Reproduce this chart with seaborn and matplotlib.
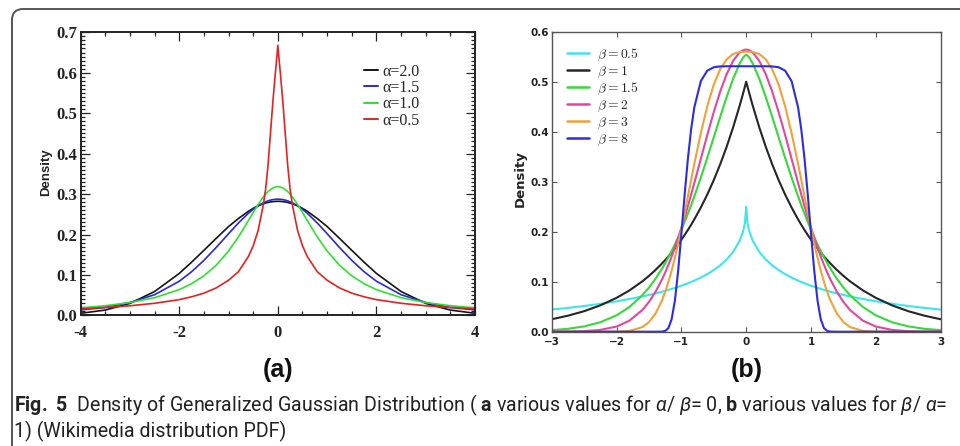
import matplotlib
matplotlib.use("Agg")
import matplotlib.pyplot as plt
import matplotlib.transforms as mtransforms
import seaborn as sns
import pandas as pd
from matplotlib import font_manager
from matplotlib.ticker import FixedLocator, FixedFormatter, MultipleLocator
from matplotlib.patches import FancyBboxPatch
from matplotlib.font_manager import FontProperties

# ---------------- data: panel (a) ----------------
x_a = [-4.0, -3.5, -3.0, -2.5, -2.0, -1.75, -1.5, -1.25, -1.0, -0.8, -0.6, -0.5, -0.4, -0.3, -0.25,
       -0.2, -0.15, -0.1, -0.05, -0.02, 0.0, 0.02, 0.05, 0.1, 0.15, 0.2, 0.25, 0.3, 0.4, 0.5, 0.6,
       0.8, 1.0, 1.25, 1.5, 1.75, 2.0, 2.5, 3.0, 3.5, 4.0]
alpha_20 = [0.0052, 0.0132, 0.0297, 0.0591, 0.1038, 0.1316, 0.1609, 0.1906, 0.2197, 0.2395, 0.2572,
            0.2647, 0.2709, 0.2758, 0.2777, 0.2793, 0.2805, 0.2814, 0.2819, 0.2821, 0.2821, 0.2821,
            0.2819, 0.2814, 0.2805, 0.2793, 0.2777, 0.2758, 0.2709, 0.2647, 0.2572, 0.2395, 0.2197,
            0.1906, 0.1609, 0.1316, 0.1038, 0.0591, 0.0297, 0.0132, 0.0052]
alpha_15 = [0.0136, 0.0195, 0.0320, 0.0512, 0.0845, 0.1080, 0.1361, 0.1681, 0.2020, 0.2285, 0.2522,
            0.2623, 0.2710, 0.2780, 0.2808, 0.2832, 0.2850, 0.2863, 0.2871, 0.2873, 0.2874, 0.2873,
            0.2871, 0.2863, 0.2850, 0.2832, 0.2808, 0.2780, 0.2710, 0.2623, 0.2522, 0.2285, 0.2020,
            0.1681, 0.1361, 0.1080, 0.0845, 0.0512, 0.0320, 0.0195, 0.0136]
alpha_10 = [0.0187, 0.0240, 0.0318, 0.0439, 0.0637, 0.0784, 0.0979, 0.1241, 0.1592, 0.1941, 0.2340,
            0.2546, 0.2744, 0.2920, 0.2996, 0.3061, 0.3113, 0.3152, 0.3175, 0.3182, 0.3183, 0.3182,
            0.3175, 0.3152, 0.3113, 0.3061, 0.2996, 0.2920, 0.2744, 0.2546, 0.2340, 0.1941, 0.1592,
            0.1241, 0.0979, 0.0784, 0.0637, 0.0439, 0.0318, 0.0240, 0.0187]
alpha_05 = [0.0165, 0.0196, 0.0238, 0.030, 0.039, 0.046, 0.055, 0.068, 0.087, 0.108, 0.145, 0.172,
            0.210, 0.270, 0.310, 0.370, 0.450, 0.530, 0.600, 0.640, 0.668, 0.640, 0.600, 0.530, 0.450,
            0.370, 0.310, 0.270, 0.210, 0.172, 0.145, 0.108, 0.087, 0.068, 0.055, 0.046, 0.039, 0.030,
            0.0238, 0.0196, 0.0165]
labels_a = ["α=2.0", "α=1.5", "α=1.0", "α=0.5"]
a_xticks = [-4, -2, 0, 2, 4]
a_xticklabels = ["-4", "-2", "0", "2", "4"]
a_yticks = [0.0, 0.1, 0.2, 0.3, 0.4, 0.5, 0.6, 0.7]
a_yticklabels = ["0.0", "0.1", "0.2", "0.3", "0.4", "0.5", "0.6", "0.7"]

# ---------------- data: panel (b) ----------------
x_b = [-3.0, -2.75, -2.5, -2.25, -2.0, -1.8, -1.6, -1.5, -1.4, -1.3, -1.25, -1.2, -1.15, -1.1, -1.05,
       -1.0, -0.95, -0.9, -0.85, -0.8, -0.7, -0.6, -0.5, -0.4, -0.3, -0.2, -0.1, -0.05, -0.02, 0.0,
       0.02, 0.05, 0.1, 0.2, 0.3, 0.4, 0.5, 0.6, 0.7, 0.8, 0.85, 0.9, 0.95, 1.0, 1.05, 1.1, 1.15,
       1.2, 1.25, 1.3, 1.4, 1.5, 1.6, 1.8, 2.0, 2.25, 2.5, 2.75, 3.0]
beta_05 = [0.0442, 0.0476, 0.0514, 0.0558, 0.0608, 0.0654, 0.0706, 0.0734, 0.0766, 0.0799, 0.0817,
           0.0836, 0.0855, 0.0876, 0.0897, 0.0920, 0.0943, 0.0968, 0.0994, 0.1022, 0.1083, 0.1152,
           0.1233, 0.1328, 0.1446, 0.1599, 0.1822, 0.1999, 0.2170, 0.2500, 0.2170, 0.1999, 0.1822,
           0.1599, 0.1446, 0.1328, 0.1233, 0.1152, 0.1083, 0.1022, 0.0994, 0.0968, 0.0943, 0.0920,
           0.0897, 0.0876, 0.0855, 0.0836, 0.0817, 0.0799, 0.0766, 0.0734, 0.0706, 0.0654, 0.0608,
           0.0558, 0.0514, 0.0476, 0.0442]
beta_1 = [0.0249, 0.0320, 0.0410, 0.0527, 0.0677, 0.0826, 0.1009, 0.1116, 0.1233, 0.1363, 0.1433,
          0.1506, 0.1583, 0.1664, 0.1750, 0.1839, 0.1934, 0.2033, 0.2137, 0.2247, 0.2483, 0.2744,
          0.3033, 0.3352, 0.3704, 0.4094, 0.4524, 0.4756, 0.4901, 0.5000, 0.4901, 0.4756, 0.4524,
          0.4094, 0.3704, 0.3352, 0.3033, 0.2744, 0.2483, 0.2247, 0.2137, 0.2033, 0.1934, 0.1839,
          0.1750, 0.1664, 0.1583, 0.1506, 0.1433, 0.1363, 0.1233, 0.1116, 0.1009, 0.0826, 0.0677,
          0.0527, 0.0410, 0.0320, 0.0249]
beta_15 = [0.0031, 0.0058, 0.0106, 0.0189, 0.0327, 0.0495, 0.0732, 0.0882, 0.1057, 0.1258, 0.1369,
           0.1488, 0.1613, 0.1748, 0.1889, 0.2038, 0.2194, 0.2358, 0.2530, 0.2709, 0.3083, 0.3480,
           0.3889, 0.4301, 0.4700, 0.5065, 0.5366, 0.5477, 0.5523, 0.5539, 0.5523, 0.5477, 0.5366,
           0.5065, 0.4700, 0.4301, 0.3889, 0.3480, 0.3083, 0.2709, 0.2530, 0.2358, 0.2194, 0.2038,
           0.1889, 0.1748, 0.1613, 0.1488, 0.1369, 0.1258, 0.1057, 0.0882, 0.0732, 0.0495, 0.0327,
           0.0189, 0.0106, 0.0058, 0.0031]
beta_2 = [0.0001, 0.0003, 0.0011, 0.0036, 0.0103, 0.0221, 0.0436, 0.0595, 0.0795, 0.1041, 0.1182,
          0.1337, 0.1504, 0.1683, 0.1874, 0.2076, 0.2288, 0.2510, 0.2739, 0.2975, 0.3456, 0.3936,
          0.4394, 0.4808, 0.5156, 0.5421, 0.5586, 0.5628, 0.5640, 0.5642, 0.5640, 0.5628, 0.5586,
          0.5421, 0.5156, 0.4808, 0.4394, 0.3936, 0.3456, 0.2975, 0.2739, 0.2510, 0.2288, 0.2076,
          0.1874, 0.1683, 0.1504, 0.1337, 0.1182, 0.1041, 0.0795, 0.0595, 0.0436, 0.0221, 0.0103,
          0.0036, 0.0011, 0.0003, 0.0001]
beta_3 = [0.0, 0.0, 0.0, 0.0, 0.0002, 0.0016, 0.0093, 0.0192, 0.0360, 0.0622, 0.0794, 0.0994, 0.1223,
          0.1479, 0.1760, 0.2060, 0.2376, 0.2701, 0.3030, 0.3356, 0.3973, 0.4511, 0.4941, 0.5252,
          0.5450, 0.5555, 0.5594, 0.5598, 0.5599, 0.5599, 0.5599, 0.5598, 0.5594, 0.5555, 0.5450,
          0.5252, 0.4941, 0.4511, 0.3973, 0.3356, 0.3030, 0.2701, 0.2376, 0.2060, 0.1760, 0.1479,
          0.1223, 0.0994, 0.0794, 0.0622, 0.0360, 0.0192, 0.0093, 0.0016, 0.0002, 0.0, 0.0, 0.0, 0.0]
beta_8 = [0.0, 0.0, 0.0, 0.0, 0.0, 0.0, 0.0, 0.0, 0.0, 0.0002, 0.0014, 0.0072, 0.0249, 0.0622, 0.1212,
          0.1953, 0.2735, 0.3452, 0.4043, 0.4489, 0.5012, 0.5221, 0.5289, 0.5306, 0.5309, 0.5309,
          0.5309, 0.5309, 0.5309, 0.5309, 0.5309, 0.5309, 0.5309, 0.5309, 0.5309, 0.5306, 0.5289,
          0.5221, 0.5012, 0.4489, 0.4043, 0.3452, 0.2735, 0.1953, 0.1212, 0.0622, 0.0249, 0.0072,
          0.0014, 0.0002, 0.0, 0.0, 0.0, 0.0, 0.0, 0.0, 0.0, 0.0, 0.0]
labels_b = [r"$\beta=0.5$", r"$\beta=1$", r"$\beta=1.5$", r"$\beta=2$", r"$\beta=3$", r"$\beta=8$"]
b_xticks = [-3, -2, -1, 0, 1, 2, 3]
b_xticklabels = ["\u22123", "\u22122", "\u22121", "0", "1", "2", "3"]
b_yticks = [0.0, 0.1, 0.2, 0.3, 0.4, 0.5, 0.6]
b_yticklabels = ["0.0", "0.1", "0.2", "0.3", "0.4", "0.5", "0.6"]

caption_line1 = (r"$\mathbf{Fig.\ 5}$  Density of Generalized Gaussian Distribution ( $\mathbf{a}$ various "
                 r"values for $\alpha$/ $\beta$= 0, $\mathbf{b}$ various values for $\beta$/ $\alpha$=")
caption_line2 = "1) (Wikimedia distribution PDF)"

# ---------------- styling ----------------
sns.set_style("ticks", {"xtick.direction": "in", "ytick.direction": "in",
                        "xtick.top": True, "ytick.right": True,
                        "xtick.bottom": True, "ytick.left": True})
avail = {f.name for f in font_manager.fontManager.ttflist}
cap_font = "Liberation Sans Narrow" if "Liberation Sans Narrow" in avail else "Roboto"
plt.rcParams["font.family"] = ["DejaVu Sans"]
plt.rcParams["mathtext.fontset"] = "custom"
plt.rcParams["mathtext.rm"] = cap_font
plt.rcParams["mathtext.bf"] = cap_font + ":bold"
plt.rcParams["mathtext.it"] = cap_font + ":italic"

W, H = 960, 446
fig = plt.figure(figsize=(W / 100, H / 100), dpi=100)
fig.patch.set_facecolor("white")

def frac_axes(x0, y0, x1, y1):
    return fig.add_axes([x0 / W, 1 - y1 / H, (x1 - x0) / W, (y1 - y0) / H])

# ---------------- panel (a) ----------------
ax_a = frac_axes(80.7, 32.3, 475.0, 315.4)
colors_a = ["#151515", "#2a2ad2", "#2fe02f", "#e22222"]
for vals, lab, col in zip([alpha_20, alpha_15, alpha_10, alpha_05], labels_a, colors_a):
    df = pd.DataFrame({"x": x_a, "density": vals})
    sns.lineplot(data=df, x="x", y="density", color=col, lw=1.2, label=lab, ax=ax_a,
                 estimator=None, sort=False)
ax_a.set_xlim(-4, 4)
ax_a.set_ylim(0, 0.7)
ax_a.xaxis.set_major_locator(FixedLocator(a_xticks))
ax_a.xaxis.set_major_formatter(FixedFormatter(a_xticklabels))
ax_a.xaxis.set_minor_locator(MultipleLocator(0.5))
ax_a.yaxis.set_major_locator(FixedLocator(a_yticks))
ax_a.yaxis.set_major_formatter(FixedFormatter(a_yticklabels))
ax_a.yaxis.set_minor_locator(MultipleLocator(0.01))
ax_a.tick_params(which="both", direction="in", top=True, right=True, bottom=True, left=True,
                 color="#222222", width=0.9)
ax_a.tick_params(which="major", length=6.5)
ax_a.tick_params(which="minor", length=3.2)
ax_a.tick_params(axis="x", which="major", pad=7)
ax_a.tick_params(axis="y", which="major", pad=2.5)
ax_a.tick_params(which="major", labelsize=12, labelcolor="#222222")
for lbl in ax_a.get_xticklabels() + ax_a.get_yticklabels():
    lbl.set_fontfamily("Liberation Serif")
    lbl.set_fontweight("bold")
for sp in ax_a.spines.values():
    sp.set_color("#222222")
    sp.set_linewidth(1.4)
ax_a.set_xlabel("")
ax_a.set_ylabel("Density", fontsize=9.5, fontweight="bold", family="Liberation Sans",
                va="center", color="#222222")
ax_a.yaxis.set_label_coords(-0.088, 0.507)
leg_a = ax_a.legend(loc="upper left", bbox_to_anchor=(0.719, 0.889), frameon=False,
                    prop=FontProperties(family="Liberation Serif", size=11.5),
                    handlelength=0.85, handletextpad=0.3, labelspacing=0.02,
                    borderpad=0, borderaxespad=0)
for h in leg_a.get_lines():
    h.set_linewidth(1.4)

# ---------------- panel (b) ----------------
ax_b = frac_axes(551.7, 31.7, 940.7, 331.7)
colors_b = ["#3ee6ec", "#262626", "#36d83a", "#e2479e", "#f0a23a", "#2c2ce2"]
for vals, lab, col in zip([beta_05, beta_1, beta_15, beta_2, beta_3, beta_8], labels_b, colors_b):
    df = pd.DataFrame({"x": x_b, "density": vals})
    sns.lineplot(data=df, x="x", y="density", color=col, lw=1.5, label=lab, ax=ax_b,
                 estimator=None, sort=False)
ax_b.set_xlim(-3, 3)
ax_b.set_ylim(0, 0.6)
ax_b.xaxis.set_major_locator(FixedLocator(b_xticks))
ax_b.xaxis.set_major_formatter(FixedFormatter(b_xticklabels))
ax_b.yaxis.set_major_locator(FixedLocator(b_yticks))
ax_b.yaxis.set_major_formatter(FixedFormatter(b_yticklabels))
ax_b.tick_params(which="major", direction="in", top=True, right=True, bottom=True, left=True,
                 length=3.5, width=0.8, color="#555555", labelsize=7.5, labelcolor="#222222")
ax_b.tick_params(axis="x", pad=3.5)
ax_b.tick_params(axis="y", pad=2)
for lbl in ax_b.get_xticklabels() + ax_b.get_yticklabels():
    lbl.set_fontweight("bold")
for sp in ax_b.spines.values():
    sp.set_color("#555555")
    sp.set_linewidth(1.0)
ax_b.set_xlabel("")
ax_b.set_ylabel("Density", fontsize=9.5, fontweight="bold", family="DejaVu Sans",
                va="center", color="#222222")
ax_b.yaxis.set_label_coords(-0.0815, 0.512)
leg_b = ax_b.legend(loc="upper left", bbox_to_anchor=(0.04, 0.95), frameon=False,
                    prop=FontProperties(size=9.8, math_fontfamily="cm"),
                    handlelength=1.6, handletextpad=0.6, labelspacing=0.05,
                    borderpad=0, borderaxespad=0)
for h in leg_b.get_lines():
    h.set_linewidth(1.8)

# ---------------- panel letters ----------------
fig.text(278 / W, 1 - 370 / H, "(a)", ha="center", va="center", fontsize=18,
         fontweight="bold", family="Liberation Sans", color="#111111")
fig.text(746.5 / W, 1 - 370 / H, "(b)", ha="center", va="center", fontsize=18,
         fontweight="bold", family="Liberation Sans", color="#111111")

# ---------------- caption ----------------
cap1 = fig.text(14 / W, 1 - 405 / H, caption_line1, ha="left", va="center", fontsize=12,
                family=cap_font, color="#222222", math_fontfamily="custom")
cap2 = fig.text(14 / W, 1 - 431 / H, caption_line2, ha="left", va="center", fontsize=12,
                family=cap_font, color="#222222")
fig.canvas.draw()
r = fig.canvas.get_renderer()
wid = cap1.get_window_extent(r).width
new_size = 12 * (944 - 14) / wid
cap1.set_fontsize(new_size)
cap2.set_fontsize(new_size)

# ---------------- outer rounded frame ----------------
frame = FancyBboxPatch((12, -60), 1200, (H - 9) + 60, boxstyle="round,pad=0,rounding_size=11",
                       transform=mtransforms.IdentityTransform(), fill=False,
                       edgecolor="#555555", linewidth=1.4)
fig.patches.append(frame)

fig.savefig("out.png", dpi=100, facecolor="white")
